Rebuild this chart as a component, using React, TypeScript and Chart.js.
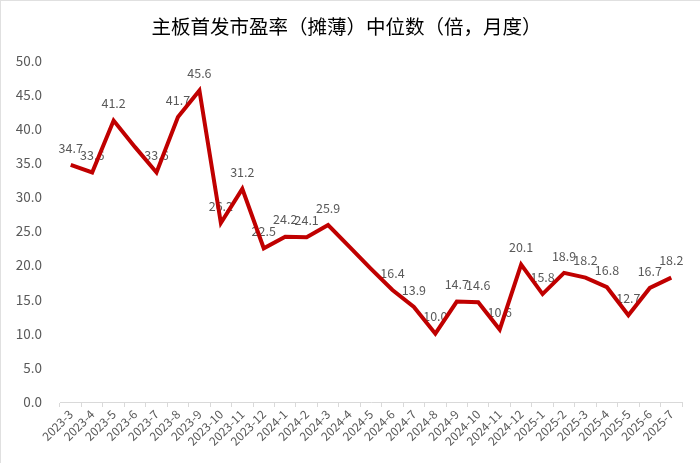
// 主板首发市盈率（摊薄）中位数 折线图
import React, { useRef, useEffect } from 'react';
import Chart from 'chart.js/auto';

const months = [
  '2023-3', '2023-4', '2023-5', '2023-6', '2023-7', '2023-8', '2023-9', '2023-10',
  '2023-11', '2023-12', '2024-1', '2024-2', '2024-3', '2024-4', '2024-5', '2024-6',
  '2024-7', '2024-8', '2024-9', '2024-10', '2024-11', '2024-12', '2025-1', '2025-2',
  '2025-3', '2025-4', '2025-5', '2025-6', '2025-7',
];

const peValues = [
  34.7, 33.6, 41.2, 37.3, 33.6, 41.7, 45.6, 26.2,
  31.2, 22.5, 24.2, 24.1, 25.9, 22.7, 19.5, 16.4,
  13.9, 10.0, 14.7, 14.6, 10.6, 20.1, 15.8, 18.9,
  18.2, 16.8, 12.7, 16.7, 18.2,
];

// 原图中未标注数值的月份
const hiddenLabels = ['2023-6', '2024-4', '2024-5'];

const yTicks = [0, 5, 10, 15, 20, 25, 30, 35, 40, 45, 50];

const FONT = '"Noto Sans CJK SC", "Noto Sans", sans-serif';

const valueLabels = {
  id: 'valueLabels',
  beforeDatasetsDraw(chart: any) {
    const ctx = chart.ctx;
    const meta = chart.getDatasetMeta(0);
    ctx.save();
    ctx.font = `12.5px ${FONT}`;
    ctx.fillStyle = '#595959';
    ctx.textAlign = 'center';
    ctx.textBaseline = 'middle';
    meta.data.forEach((pt: any, i: number) => {
      if (hiddenLabels.includes(months[i])) return;
      ctx.fillText(peValues[i].toFixed(1), pt.x, pt.y - 17);
    });
    ctx.restore();
  },
};

const App: React.FC = () => {
  const canvasRef = useRef<HTMLCanvasElement>(null);
  const chartRef = useRef<Chart | null>(null);

  useEffect(() => {
    document.body.style.margin = '0';
    if (!canvasRef.current) return;
    if (chartRef.current) chartRef.current.destroy();

    chartRef.current = new Chart(canvasRef.current, {
      type: 'line',
      data: {
        labels: months,
        datasets: [{
          label: '市盈率中位数',
          data: peValues,
          borderColor: '#C00000',
          borderWidth: 4,
          pointRadius: 0,
          tension: 0,
          fill: false,
        }],
      },
      options: {
        responsive: true,
        maintainAspectRatio: false,
        animation: false,
        layout: { padding: { left: 8, right: 18, top: 4, bottom: 0 } },
        plugins: {
          legend: { display: false },
          tooltip: { enabled: false },
          title: {
            display: true,
            text: '主板首发市盈率（摊薄）中位数（倍，月度）',
            color: '#000',
            font: { family: FONT, size: 19.5, weight: 'normal' },
            padding: { top: 10, bottom: 22 },
          },
        },
        scales: {
          x: {
            offset: true,
            afterFit: (axis: any) => { axis.height = 61; },
            grid: {
              display: true,
              offset: true,
              drawOnChartArea: false,
              drawTicks: true,
              tickLength: 5,
              color: '#d9d9d9',
            },
            border: { color: '#d9d9d9', width: 1 },
            ticks: {
              color: '#595959',
              font: { family: FONT, size: 12 },
              maxRotation: 45,
              minRotation: 45,
              autoSkip: false,
              padding: 0,
            },
          },
          y: {
            min: 0,
            max: 50,
            afterFit: (axis: any) => { axis.width = 49; },
            afterBuildTicks: (axis: any) => {
              axis.ticks = yTicks.map((v) => ({ value: v }));
            },
            grid: { display: false },
            border: { display: false },
            ticks: {
              color: '#595959',
              font: { family: FONT, size: 13.5 },
              padding: 10,
              callback: (v: any) => Number(v).toFixed(1),
            },
          },
        },
      },
      plugins: [valueLabels],
    });

    return () => {
      if (chartRef.current) {
        chartRef.current.destroy();
        chartRef.current = null;
      }
    };
  }, []);

  return (
    <div style={{ width: 700, height: 463, boxSizing: 'border-box', borderTop: '1px solid #e0e0e0', borderLeft: '1px solid #e0e0e0', paddingLeft: 2 }}>
      <canvas ref={canvasRef} />
    </div>
  );
};

export default App;
